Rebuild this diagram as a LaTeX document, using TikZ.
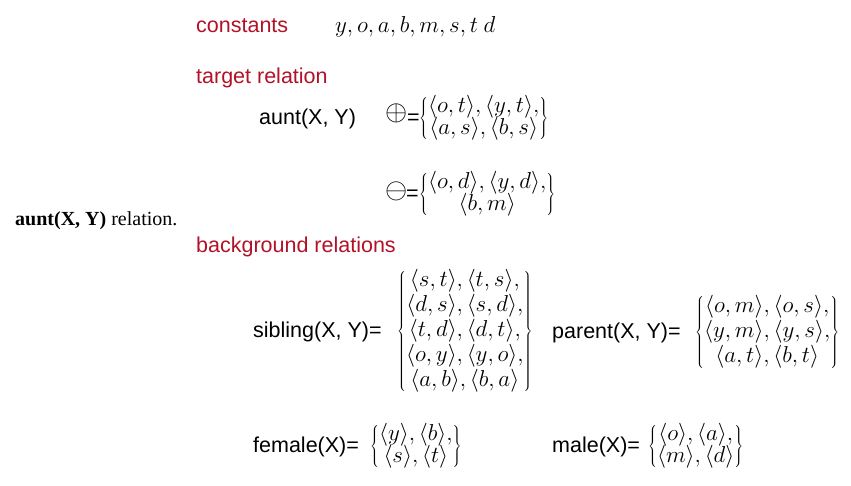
\RequirePackage{fix-cm}
\documentclass[tikz,border=0pt]{standalone}
\usepackage{fontspec}
\setmainfont{Liberation Serif}
\newfontfamily\arialfont{Liberation Sans}

\definecolor{headred}{RGB}{178,18,40}

\tikzset{
  head/.style={font=\arialfont\fontsize{21.5}{26}\selectfont, text=headred, anchor=base west, inner sep=0},
  lbl/.style={font=\arialfont\fontsize{21.5}{26}\selectfont, anchor=base west, inner sep=0},
  mset/.style={font=\fontsize{23}{23}\selectfont, anchor=west, inner sep=0},
  sign/.style={font=\fontsize{28.5}{30}\selectfont, inner sep=0},
}

\newcommand{\tup}[1]{\langle #1\rangle}

\begin{document}
\begin{tikzpicture}[x=1pt,y=-1pt]
\useasboundingbox (0,0) rectangle (851,485);

% Caption on the left
\node[font=\fontsize{20}{24}\selectfont, anchor=base west, inner sep=0] (caption) at (15,225) {\textbf{aunt(X, Y)} relation.};

% Constants
\node[head] (constants) at (196,32) {constants};
\node[mset, anchor=base west] (constlist) at (335,32) {$y, o, a, b, m, s, t\ d$};

% Target relation
\node[head] (target) at (196,83) {target relation};
\node[lbl] (aunt) at (259,124) {aunt(X, Y)};
\node[sign] (plus) at (397,113) {$\oplus$};
\node[lbl] (pluseq) at (407,124) {=};
\node[mset] (plusset) at (419,118.5) {$\left\{\begin{array}{@{}c@{}}
  \tup{o,t},\tup{y,t},\\[-2pt]
  \tup{a,s},\tup{b,s}
  \end{array}\right\}$};
\node[sign] (minus) at (396.5,191) {$\ominus$};
\node[lbl] (minuseq) at (406,200) {=};
\node[mset] (minusset) at (419,194.5) {$\left\{\begin{array}{@{}c@{}}
  \tup{o,d},\tup{y,d},\\[-2pt]
  \tup{b,m}
  \end{array}\right\}$};

% Background relations
\node[head] (background) at (196,252) {background relations};
\node[lbl] (sibling) at (253,337) {sibling(X, Y)=};
\node[mset] (siblingset) at (397,331.5) {$\left\{\begin{array}{@{}c@{}}
  \tup{s,t},\tup{t,s},\\[1pt]
  \tup{d,s},\tup{s,d},\\[1pt]
  \tup{t,d},\tup{d,t},\\[1pt]
  \tup{o,y},\tup{y,o},\\[1pt]
  \tup{a,b},\tup{b,a}
  \end{array}\right\}$};
\node[lbl] (parent) at (552,338) {parent(X, Y)=};
\node[mset] (parentset) at (695,332.5) {$\left\{\begin{array}{@{}c@{}}
  \tup{o,m},\tup{o,s},\\[1pt]
  \tup{y,m},\tup{y,s},\\[1pt]
  \tup{a,t},\tup{b,t}
  \end{array}\right\}$};
\node[lbl] (female) at (253,452) {female(X)=};
\node[mset] (femaleset) at (370,446.5) {$\left\{\begin{array}{@{}c@{}}
  \tup{y},\tup{b},\\[-2pt]
  \tup{s},\tup{t}
  \end{array}\right\}$};
\node[lbl] (male) at (552,452) {male(X)=};
\node[mset] (maleset) at (648,446.5) {$\left\{\begin{array}{@{}c@{}}
  \tup{o},\tup{a},\\[-2pt]
  \tup{m},\tup{d}
  \end{array}\right\}$};

\end{tikzpicture}
\end{document}
